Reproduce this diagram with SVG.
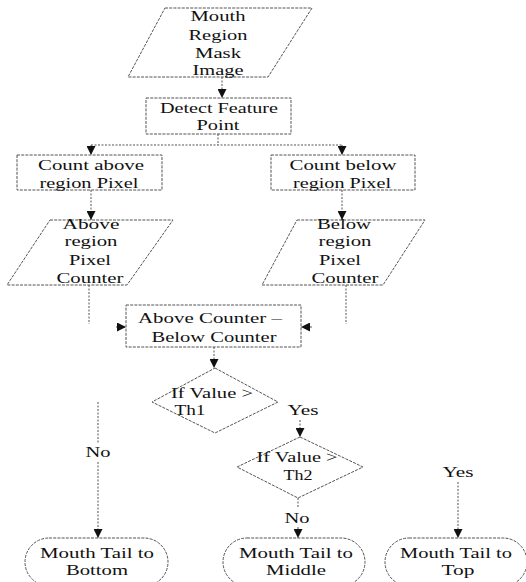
<svg xmlns="http://www.w3.org/2000/svg" width="526" height="582" viewBox="0 0 526 582">
<defs>
<style>
.shape{fill:#fff;stroke:#555;stroke-width:1;stroke-dasharray:3 1.2}
.conn{fill:none;stroke:#555;stroke-width:1;stroke-dasharray:2 1.5}
text{font-family:"Liberation Serif","Times New Roman",serif;font-size:15px;fill:#111;text-anchor:middle}
</style>
<marker id="ah" viewBox="0 0 10 10" refX="10" refY="5" markerWidth="9" markerHeight="9" markerUnits="userSpaceOnUse" orient="auto">
<path d="M0,0 L10,5 L0,10 z" fill="#111"/>
</marker>
</defs>
<rect width="526" height="582" fill="#fff"/>
<g id="connectors">
<path class="conn" d="M222,77 V98" marker-end="url(#ah)"/>
<path class="conn" d="M218,134 V145"/>
<path class="conn" d="M91,145 H342"/>
<path class="conn" d="M91,145 V155" marker-end="url(#ah)"/>
<path class="conn" d="M342,145 V155" marker-end="url(#ah)"/>
<path class="conn" d="M91,190 V220" marker-end="url(#ah)"/>
<path class="conn" d="M342,190 V220" marker-end="url(#ah)"/>
<path class="conn" d="M89,285 V324"/>
<path class="conn" d="M116,327 H126" marker-end="url(#ah)"/>
<path class="conn" d="M346,285 V324"/>
<path class="conn" d="M312,327 H301" marker-end="url(#ah)"/>
<path class="conn" d="M214,347 V368" marker-end="url(#ah)"/>
<path class="conn" d="M300,420 V437" marker-end="url(#ah)"/>
<path class="conn" d="M298,498 V508"/>
<path class="conn" d="M298,527 V538" marker-end="url(#ah)"/>
<path class="conn" d="M98,402 V444"/>
<path class="conn" d="M98,462 V538" marker-end="url(#ah)"/>
<path class="conn" d="M458,482 V538" marker-end="url(#ah)"/>
<text x="98" y="457" textLength="25" lengthAdjust="spacingAndGlyphs">No</text>
<text x="303" y="415" textLength="31" lengthAdjust="spacingAndGlyphs">Yes</text>
<text x="297" y="523" textLength="25" lengthAdjust="spacingAndGlyphs">No</text>
<text x="458" y="477" textLength="31" lengthAdjust="spacingAndGlyphs">Yes</text>
</g>
<g id="mask-image">
<polygon class="shape" points="165,8 312,8 268,77 128,77"/>
<text x="218" y="21" textLength="55" lengthAdjust="spacingAndGlyphs">Mouth</text>
<text x="218" y="40" textLength="59" lengthAdjust="spacingAndGlyphs">Region</text>
<text x="218" y="58" textLength="46" lengthAdjust="spacingAndGlyphs">Mask</text>
<text x="218" y="75" textLength="51" lengthAdjust="spacingAndGlyphs">Image</text>
</g>
<g id="detect">
<rect class="shape" x="146" y="98" width="145" height="36"/>
<text x="219" y="113" textLength="118" lengthAdjust="spacingAndGlyphs">Detect Feature</text>
<text x="218" y="130" textLength="43" lengthAdjust="spacingAndGlyphs">Point</text>
</g>
<g id="count-above">
<rect class="shape" x="17" y="155" width="145" height="35"/>
<text x="91" y="170" textLength="106" lengthAdjust="spacingAndGlyphs">Count above</text>
<text x="89" y="188" textLength="99" lengthAdjust="spacingAndGlyphs">region Pixel</text>
</g>
<g id="count-below">
<rect class="shape" x="271" y="155" width="144" height="35"/>
<text x="343" y="170" textLength="107" lengthAdjust="spacingAndGlyphs">Count below</text>
<text x="342" y="188" textLength="98" lengthAdjust="spacingAndGlyphs">region Pixel</text>
</g>
<g id="above-counter">
<polygon class="shape" points="50,220 173,220 127,285 7,285"/>
<text x="91" y="229" textLength="57" lengthAdjust="spacingAndGlyphs">Above</text>
<text x="91" y="246" textLength="53" lengthAdjust="spacingAndGlyphs">region</text>
<text x="90" y="265" textLength="42" lengthAdjust="spacingAndGlyphs">Pixel</text>
<text x="90" y="283" textLength="67" lengthAdjust="spacingAndGlyphs">Counter</text>
</g>
<g id="below-counter">
<polygon class="shape" points="297,220 425,220 383,285 262,285"/>
<text x="344" y="229" textLength="54" lengthAdjust="spacingAndGlyphs">Below</text>
<text x="345" y="246" textLength="53" lengthAdjust="spacingAndGlyphs">region</text>
<text x="340" y="265" textLength="42" lengthAdjust="spacingAndGlyphs">Pixel</text>
<text x="345" y="283" textLength="67" lengthAdjust="spacingAndGlyphs">Counter</text>
</g>
<g id="difference">
<rect class="shape" x="126" y="305" width="175" height="42"/>
<text x="210" y="323" textLength="144" lengthAdjust="spacingAndGlyphs">Above Counter –</text>
<text x="214" y="342" textLength="125" lengthAdjust="spacingAndGlyphs">Below Counter</text>
</g>
<g id="th1">
<polygon class="shape" points="215,368 278,402 215,433 152,402"/>
<text x="212" y="398" textLength="82" lengthAdjust="spacingAndGlyphs">If Value &gt;</text>
<text x="190" y="415" textLength="31" lengthAdjust="spacingAndGlyphs">Th1</text>
</g>
<g id="th2">
<polygon class="shape" points="300,437 363,467 298,498 237,467"/>
<text x="297" y="462" textLength="81" lengthAdjust="spacingAndGlyphs">If Value &gt;</text>
<text x="298" y="480" textLength="29" lengthAdjust="spacingAndGlyphs">Th2</text>
</g>
<g id="to-bottom">
<rect class="shape" x="25" y="538" width="143" height="48" rx="24" ry="24"/>
<text x="97" y="558" textLength="114" lengthAdjust="spacingAndGlyphs">Mouth Tail to</text>
<text x="97" y="575" textLength="62" lengthAdjust="spacingAndGlyphs">Bottom</text>
</g>
<g id="to-middle">
<rect class="shape" x="223" y="538" width="142" height="48" rx="24" ry="24"/>
<text x="296" y="558" textLength="114" lengthAdjust="spacingAndGlyphs">Mouth Tail to</text>
<text x="296" y="575" textLength="60" lengthAdjust="spacingAndGlyphs">Middle</text>
</g>
<g id="to-top">
<rect class="shape" x="385" y="538" width="142" height="48" rx="24" ry="24"/>
<text x="456" y="558" textLength="112" lengthAdjust="spacingAndGlyphs">Mouth Tail to</text>
<text x="458" y="575" textLength="33" lengthAdjust="spacingAndGlyphs">Top</text>
</g>
</svg>
